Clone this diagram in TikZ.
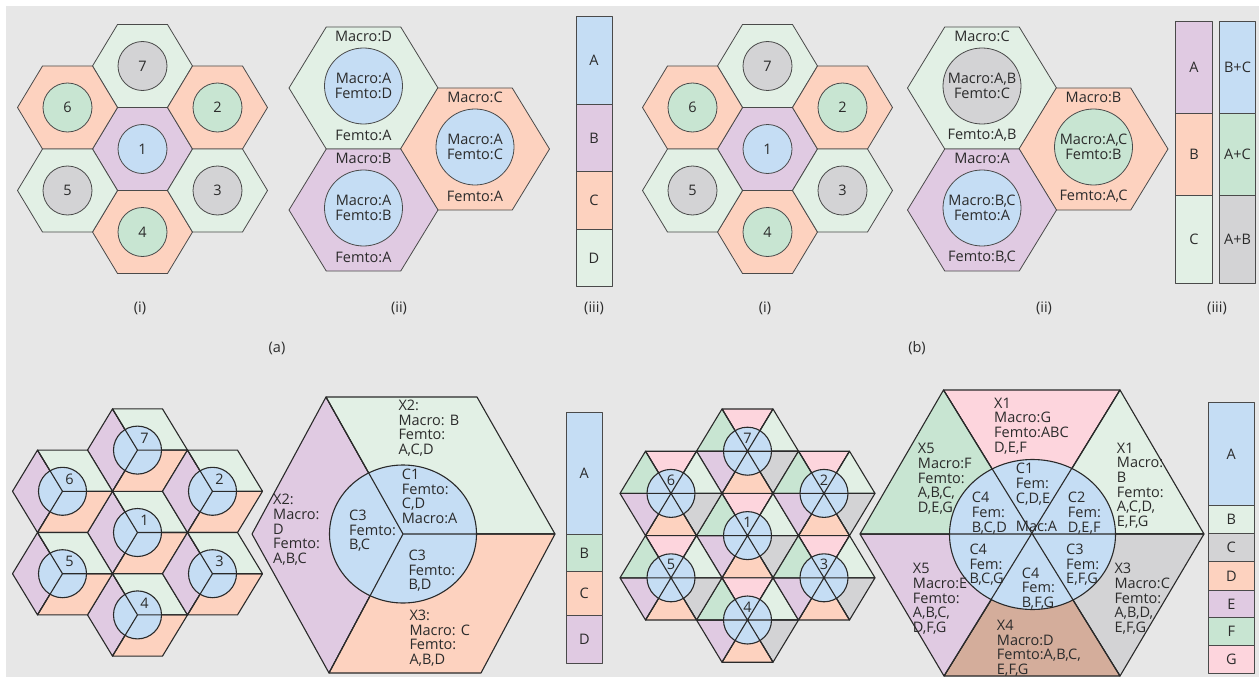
\documentclass[tikz,border=0pt]{standalone}
\usepackage{fontspec}
\setmainfont{Open Sans}
\usetikzlibrary{calc}

\definecolor{bgcol}{HTML}{E7E7E7}
\definecolor{mint}{HTML}{E2F0E5}
\definecolor{salmon}{HTML}{FDD2BF}
\definecolor{lav}{HTML}{E0CAE2}
\definecolor{sky}{HTML}{C5DDF4}
\definecolor{ash}{HTML}{D3D3D5}
\definecolor{leaf}{HTML}{C8E5D2}
\definecolor{rose}{HTML}{FDD5DD}
\definecolor{clay}{HTML}{D4AD9B}
\definecolor{edge}{HTML}{4A4A4A}
\definecolor{edgedark}{HTML}{2A2A2A}
\definecolor{ink}{HTML}{2B2B2B}

\tikzset{
  cell/.style={draw=edge, line width=0.8pt, line join=round},
  cut/.style={draw=edgedark, line width=1.1pt, line join=round},
  lbl/.style={font=\fontsize{14.5}{14.7}\selectfont, text=ink, inner sep=0pt},
  blk/.style={lbl, align=left, anchor=north west},
  mid/.style={lbl, align=center},
}
% flat hexagon round the origin: half width #1, half height #2
\newcommand{\hexagonpath}[2]{(-#1,0) -- (-#1/2,-#2) -- (#1/2,-#2) -- (#1,0) -- (#1/2,#2) -- (-#1/2,#2) -- cycle}

\begin{document}
\begin{tikzpicture}[x=1pt, y=-1pt]
    \useasboundingbox (0,0) rectangle (1259,677);
    \fill[white] (0,0) rectangle (1259,677);
    \fill[bgcol] (6,6) rectangle (1259,677);

    % (a)(i) and (b)(i): seven cell clusters
    \foreach \dx/\tag in {0/a,625/b}
      \foreach \n/\cx/\cy/\hc/\cc in {1/142.5/149/lav/sky, 7/142.5/66/mint/ash, 4/142.5/232/salmon/leaf,
          6/67.5/107.5/salmon/leaf, 2/217.5/107.5/salmon/leaf, 5/67.5/190.5/mint/ash, 3/217.5/190.5/mint/ash}{
        \begin{scope}[shift={(\cx+\dx,\cy)}]
          \filldraw[cell, fill=\hc] \hexagonpath{50}{41.5};
          \filldraw[cell, fill=\cc] (0,0) circle [radius=24.5];
          \node[lbl] (\tag\n) at (0,0) {\n};
        \end{scope}
      }

    % (a)(ii) and (b)(ii): three large cells
    \foreach \cx/\cy/\hc/\cc/\up/\ctr/\lo/\nm in {
        363.5/88/mint/sky/Macro:D/{Macro:A\\Femto:D}/Femto:A/ad,
        475/149/salmon/sky/Macro:C/{Macro:A\\Femto:C}/Femto:A/ac,
        363.5/210/lav/sky/Macro:B/{Macro:A\\Femto:B}/Femto:A/ab,
        982/88/mint/ash/Macro:C/{Macro:A,B\\Femto:C}/{Femto:A,B}/bc,
        1093.5/149/salmon/leaf/Macro:B/{Macro:A,C\\Femto:B}/{Femto:A,C}/bb,
        982/210/lav/sky/Macro:A/{Macro:B,C\\Femto:A}/{Femto:B,C}/ba}{
      \begin{scope}[shift={(\cx,\cy)}]
        \filldraw[cell, fill=\hc] \hexagonpath{74.5}{61};
        \filldraw[cell, fill=\cc] (0,-2) ellipse [x radius=39, y radius=38];
        \node[lbl] (\nm-up) at (0,-52) {\up};
        \node[mid] (\nm-in) at (0,-2) {\ctr};
        \node[lbl] (\nm-lo) at (0,47) {\lo};
      \end{scope}
    }

    % (a)(iii) band split
    \foreach \ya/\yb/\fc/\t in {16.7/104.3/sky/A, 104.3/171.7/lav/B, 171.7/229.3/salmon/C, 229.3/286.7/mint/D}{
      \filldraw[cell, fill=\fc] (576,\ya) rectangle (612,\yb);
      \node[lbl] (bara\t) at (594,{(\ya+\yb)/2}) {\t};
    }
    % (b)(iii) band split, two columns
    \foreach \ya/\yb/\fc/\t/\gc/\s/\k in {21.7/113.3/lav/A/sky/B+C/1, 113.3/195.7/salmon/B/leaf/A+C/2,
        195.7/283.3/mint/C/ash/A+B/3}{
      \filldraw[cell, fill=\fc] (1175.7,\ya) rectangle (1212.3,\yb);
      \filldraw[cell, fill=\gc] (1219.3,\ya) rectangle (1255.7,\yb);
      \node[lbl] (barb\k) at (1194,{(\ya+\yb)/2}) {\t};
      \node[lbl] (barc\k) at (1237.5,{(\ya+\yb)/2}) {\s};
    }

    % sub labels
    \foreach \x/\t/\nm in {140/{(i)}/ai, 399/{(ii)}/aii, 594/{(iii)}/aiii, 765/{(i)}/bi, 1044/{(ii)}/bii, 1217/{(iii)}/biii}
      \node[lbl] (\nm) at (\x,308) {\t};
    \node[lbl] (capa) at (277,348) {(a)};
    \node[lbl] (capb) at (917,348) {(b)};

    % (c) left: cells cut in three sectors
    \foreach \n/\cx/\cy in {1/137.5/532.5, 7/137.5/450.1, 4/137.5/614.9, 6/62.5/491.3,
        2/212.5/491.3, 5/62.5/573.7, 3/212.5/573.7}{
      \begin{scope}[shift={(\cx,\cy)}]
        \filldraw[cut, fill=lav] (0,0) -- (-25,-41.2) -- (-50,0) -- (-25,41.2) -- cycle;
        \filldraw[cut, fill=mint] (0,0) -- (-25,-41.2) -- (25,-41.2) -- (50,0) -- cycle;
        \filldraw[cut, fill=salmon] (0,0) -- (50,0) -- (25,41.2) -- (-25,41.2) -- cycle;
        \filldraw[cut, fill=sky] (0,0) circle [radius=24];
        \draw[cut] (-25,-41.2) -- (0,0) -- (-25,41.2) (0,0) -- (50,0);
        \node[lbl] (c\n) at (7,-12) {\n};
      \end{scope}
    }

    % (c) middle: one cell enlarged
    \coordinate (cm) at (403,534);
    \coordinate (ctl) at (326,397);
    \coordinate (ctr) at (477,397);
    \coordinate (cr) at (555,534);
    \coordinate (cbr) at (481,673);
    \coordinate (cbl) at (329,673);
    \coordinate (cl) at (252,534);
    \filldraw[cut, fill=lav] (cm) -- (ctl) -- (cl) -- (cbl) -- cycle;
    \filldraw[cut, fill=mint] (cm) -- (ctl) -- (ctr) -- (cr) -- cycle;
    \filldraw[cut, fill=salmon] (cm) -- (cr) -- (cbr) -- (cbl) -- cycle;
    \filldraw[cut, fill=sky] (cm) ellipse [x radius=73.5, y radius=69];
    \draw[cut] (ctl) -- (cm) -- (cbl) (cm) -- (cr);
    \node[blk] (cx2b) at (398.3,399.8) {X2:\\Macro: B\\Femto:\\A,C,D};
    \node[blk] (cx2d) at (273,494.1) {X2:\\Macro:\\D\\Femto:\\A,B,C};
    \node[blk] (cc1) at (401.7,468.8) {C1\\Femto:\\C,D\\Macro:A};
    \node[blk] (cc3l) at (349,509.8) {C3\\Femto:\\B,C};
    \node[blk] (cc3b) at (408.3,549.8) {C3\\Femto:\\B,D};
    \node[blk] (cx3) at (409.3,609.8) {X3:\\Macro: C\\Femto:\\A,B,D};

    % (c) band split
    \foreach \ya/\yb/\fc/\t in {412.7/534.3/sky/A, 534.3/571.7/leaf/B, 571.7/615/salmon/C, 615/663.3/lav/D}{
      \filldraw[cell, fill=\fc] (566,\ya) rectangle (602.7,\yb);
      \node[lbl] (barcc\t) at (584.3,{(\ya+\yb)/2}) {\t};
    }

    % (d) left: cells cut in six sectors
    \foreach \n/\cx/\cy in {1/747.5/535.6, 7/747.5/451.2, 4/747.5/620, 6/671/493.4,
        2/824/493.4, 5/671/577.8, 3/824/577.8}{
      \begin{scope}[shift={(\cx,\cy)}]
        \coordinate (v0) at (51,0);
        \coordinate (v1) at (25.5,-42.2);
        \coordinate (v2) at (-25.5,-42.2);
        \coordinate (v3) at (-51,0);
        \coordinate (v4) at (-25.5,42.2);
        \coordinate (v5) at (25.5,42.2);
        \filldraw[cut, fill=rose] (0,0) -- (v1) -- (v2) -- cycle;
        \filldraw[cut, fill=mint] (0,0) -- (v0) -- (v1) -- cycle;
        \filldraw[cut, fill=ash] (0,0) -- (v5) -- (v0) -- cycle;
        \filldraw[cut, fill=salmon] (0,0) -- (v4) -- (v5) -- cycle;
        \filldraw[cut, fill=lav] (0,0) -- (v3) -- (v4) -- cycle;
        \filldraw[cut, fill=leaf] (0,0) -- (v2) -- (v3) -- cycle;
        \filldraw[cut, fill=sky] (0,0) circle [radius=24];
        \draw[cut] (v0) -- (v3) (v1) -- (v4) (v2) -- (v5);
        \node[lbl] (d\n) at (0,-13) {\n};
      \end{scope}
    }

    % (d) middle: one cell enlarged
    \coordinate (dm) at (1032,534);
    \coordinate (dtl) at (943.5,390);
    \coordinate (dtr) at (1120,390);
    \coordinate (dr) at (1204,534);
    \coordinate (dbr) at (1120,676);
    \coordinate (dbl) at (944,676);
    \coordinate (dl) at (860,534);
    \filldraw[cut, fill=rose] (dm) -- (dtl) -- (dtr) -- cycle;
    \filldraw[cut, fill=mint] (dm) -- (dtr) -- (dr) -- cycle;
    \filldraw[cut, fill=ash] (dm) -- (dr) -- (dbr) -- cycle;
    \filldraw[cut, fill=clay] (dm) -- (dbr) -- (dbl) -- cycle;
    \filldraw[cut, fill=lav] (dm) -- (dbl) -- (dl) -- cycle;
    \filldraw[cut, fill=leaf] (dm) -- (dl) -- (dtl) -- cycle;
    \filldraw[cut, fill=sky] (1032.5,534.5) ellipse [x radius=83, y radius=75];
    \draw[cut] (dl) -- (dr) (dtl) -- (dbr) (dtr) -- (dbl);
    \node[blk] (dx1g) at (994,397.5) {X1\\Macro:G\\Femto:ABC\\D,E,F};
    \node[blk] (dx1b) at (1116.7,442.5) {X1\\Macro:\\B\\Femto:\\A,C,D,\\E,F,G};
    \node[blk] (dx5f) at (917.7,443.1) {X5\\Macro:F\\Femto:\\A,B,C,\\D,E,G};
    \node[blk] (dc1) at (1015.7,463.1) {C1\\Fem:\\C,D,E};
    \node[blk] (dc2) at (1067.7,492.1) {C2\\Fem:\\D,E,F};
    \node[blk] (dc4a) at (971.7,492.1) {C4\\Fem:\\B,C,D};
    \node[blk] (dmac) at (1015.7,520.5) {Mac:A};
    \node[blk] (dc4b) at (969.3,543.8) {C4\\Fem:\\B,C,G};
    \node[blk] (dc4c) at (1021.7,567.5) {C4\\Fem:\\B,F,G};
    \node[blk] (dc3) at (1066,543.8) {C3\\Fem:\\E,F,G};
    \node[blk] (dx5e) at (912.7,563.1) {X5\\Macro:E\\Femto:\\A,B,C,\\D,F,G};
    \node[blk] (dx3) at (1114.3,563.1) {X3\\Macro:C\\Femto:\\A,B,D,\\E,F,G};
    \node[blk] (dx4) at (996.7,619.8) {X4\\Macro:D\\Femto:A,B,C,\\E,F,G};

    % (d) band split
    \foreach \ya/\yb/\fc/\t in {402.7/505/sky/A, 505/533.3/mint/B, 533.3/561.7/ash/C, 561.7/590/salmon/D,
        590/617.7/lav/E, 617.7/645.7/leaf/F, 645.7/673.3/rose/G}{
      \filldraw[cell, fill=\fc] (1208.3,\ya) rectangle (1254.3,\yb);
      \node[lbl] (bard\t) at (1231.3,{(\ya+\yb)/2}) {\t};
    }
\end{tikzpicture}
\end{document}
